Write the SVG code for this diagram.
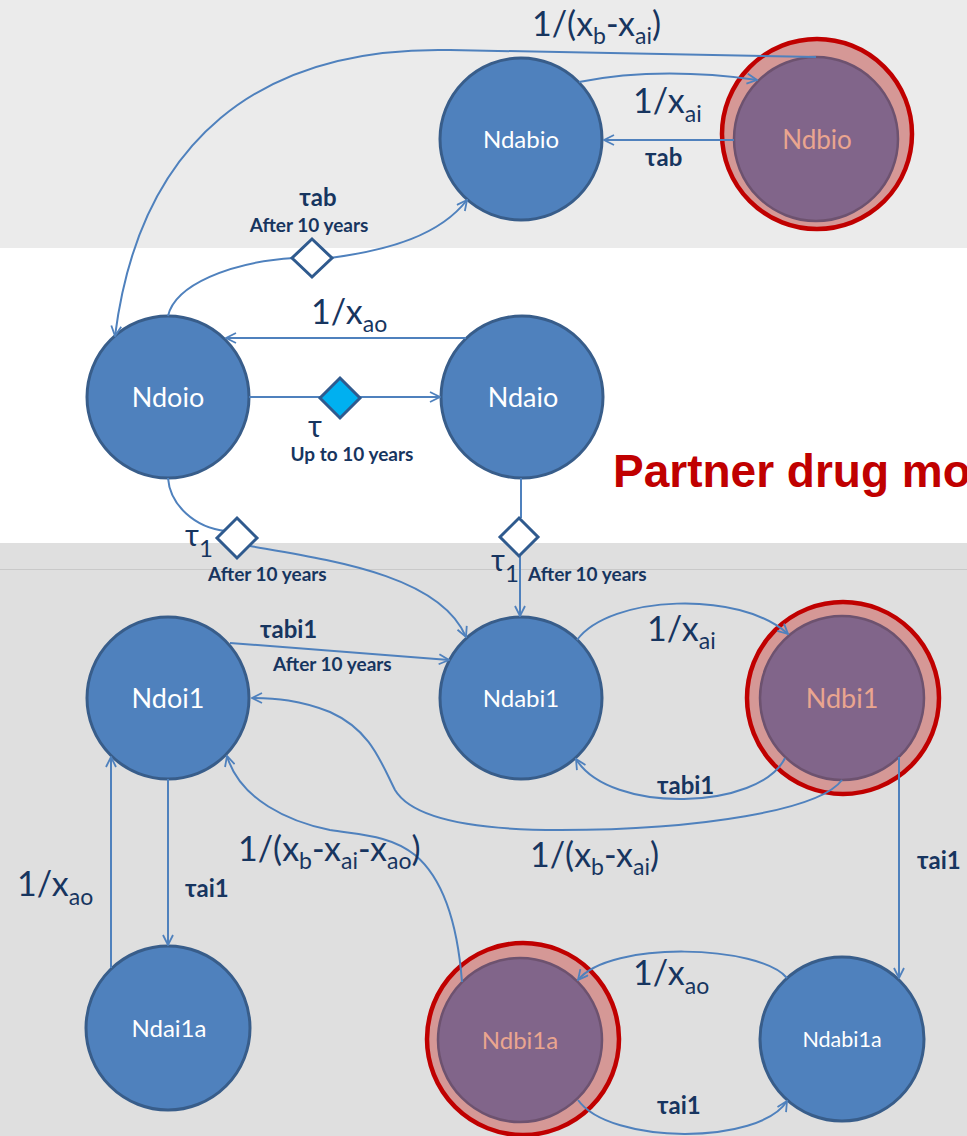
<svg xmlns="http://www.w3.org/2000/svg" width="967" height="1136" viewBox="0 0 967 1136">
<style>
.nb{fill:#4f81bd;stroke:#385d8a;stroke-width:3}
.ring{fill:#d59896;stroke:#c00000;stroke-width:4.5}
.inner{fill:#81658a;stroke:#6d526f;stroke-width:2.5}
.nt{font-family:Lato,"Noto Sans",sans-serif;fill:#ffffff;text-anchor:middle}
.pt{font-family:Lato,"Noto Sans",sans-serif;fill:#eaa58f;text-anchor:middle}
.c{fill:none;stroke:#4f81bd;stroke-width:2}
.dia{fill:#ffffff;stroke:#2f5a8e;stroke-width:3}
.diaf{fill:#00b0f0;stroke:#2f5a8e;stroke-width:3}
.m{font-family:Lato,"Noto Sans",sans-serif;font-size:34px;fill:#17355f}
.s{font-size:23px}
.t{font-family:Lato,"Noto Sans","DejaVu Sans",sans-serif;font-size:24px;font-weight:bold;fill:#17355f}
.y{font-family:Lato,"Noto Sans",sans-serif;font-size:19px;font-weight:bold;fill:#17355f}
.tau{font-family:Lato,"Noto Sans","DejaVu Sans",sans-serif;font-size:30px;fill:#17355f}
</style>
<defs>
<marker id="arr" viewBox="0 0 12 12" refX="11" refY="6" markerWidth="12" markerHeight="12" markerUnits="userSpaceOnUse" orient="auto">
<path d="M1,1 L11,6 L1,11" fill="none" stroke="#4f81bd" stroke-width="1.8"/>
</marker>
</defs>
<g id="background">
<rect x="0" y="0" width="967" height="248" fill="#ebebeb"/>
<rect x="0" y="248" width="967" height="295" fill="#ffffff"/>
<rect x="0" y="543" width="967" height="593" fill="#dfdfdf"/>
<line x1="0" y1="569.5" x2="967" y2="569.5" stroke="#c9c9c9" stroke-width="1"/>
<text x="613" y="487" font-family="'Liberation Sans',Arial,sans-serif" font-size="46" font-weight="bold" fill="#c00000">Partner drug mo</text>
</g>
<g id="Ndabio"><circle class="nb" cx="521" cy="139" r="81"/><text class="nt" x="521" y="148" font-size="24">Ndabio</text></g>
<g id="Ndbio"><circle class="ring" cx="817" cy="134" r="95"/><circle class="inner" cx="816" cy="139" r="82"/><text class="pt" x="817" y="149" font-size="26">Ndbio</text></g>
<g id="Ndoio"><circle class="nb" cx="168" cy="397" r="81"/><text class="nt" x="168" y="407" font-size="27">Ndoio</text></g>
<g id="Ndaio"><circle class="nb" cx="522" cy="397" r="81"/><text class="nt" x="523" y="407" font-size="27">Ndaio</text></g>
<g id="Ndoi1"><circle class="nb" cx="168" cy="698" r="81"/><text class="nt" x="168" y="708" font-size="27">Ndoi1</text></g>
<g id="Ndabi1"><circle class="nb" cx="521" cy="698" r="81"/><text class="nt" x="521" y="707" font-size="24">Ndabi1</text></g>
<g id="Ndbi1"><circle class="ring" cx="843" cy="698" r="96"/><circle class="inner" cx="842" cy="698" r="82"/><text class="pt" x="842" y="708" font-size="27">Ndbi1</text></g>
<g id="Ndai1a"><circle class="nb" cx="168" cy="1028" r="82"/><text class="nt" x="169" y="1037" font-size="24">Ndai1a</text></g>
<g id="Ndbi1a"><circle class="ring" cx="523" cy="1039" r="96"/><circle class="inner" cx="520" cy="1040" r="82"/><text class="pt" x="520" y="1049" font-size="24">Ndbi1a</text></g>
<g id="Ndabi1a"><circle class="nb" cx="842" cy="1039" r="82"/><text class="nt" x="842" y="1047" font-size="21.5">Ndabi1a</text></g>
<g id="connectors">
<path class="c" d="M816,57 L450,50 C260,46 140,140 115,336" marker-end="url(#arr)"/>
<path class="c" d="M579,82 C640,70 700,72 757,80" marker-end="url(#arr)"/>
<path class="c" d="M734,140 L604,140" marker-end="url(#arr)"/>
<path class="c" d="M168,316 C175,285 230,262 294,258"/>
<path class="c" d="M330,258 C390,250 440,235 467,200" marker-end="url(#arr)"/>
<polygon class="dia" points="312,239 332,258 312,277 292,258"/>
<path class="c" d="M466,338 L226,338" marker-end="url(#arr)"/>
<path class="c" d="M249,397 L440,397" marker-end="url(#arr)"/>
<polygon class="diaf" points="340,378 360,398 340,418 320,398"/>
<path class="c" d="M168,478 C170,505 195,528 226,531"/>
<path class="c" d="M250,546 C330,560 440,575 466,637" marker-end="url(#arr)"/>
<polygon class="dia" points="237,518 257,538 237,558 217,538"/>
<path class="c" d="M521,478 L521,518"/>
<path class="c" d="M520,556 L520,616" marker-end="url(#arr)"/>
<polygon class="dia" points="519,518 538,537 519,556 500,537"/>
<path class="c" d="M230,643 L449,660" marker-end="url(#arr)"/>
<path class="c" d="M577,640 C610,595 740,590 788,634" marker-end="url(#arr)"/>
<path class="c" d="M785,758 C760,810 610,815 576,759" marker-end="url(#arr)"/>
<path class="c" d="M842,780 C820,810 700,830 560,830 C460,830 410,815 395,790 C380,760 370,730 330,712 C300,700 275,698 252,698" marker-end="url(#arr)"/>
<path class="c" d="M462,982 C458,930 445,880 415,855 C390,835 360,835 330,830 C290,822 240,800 227,756" marker-end="url(#arr)"/>
<path class="c" d="M168,779 L168,945" marker-end="url(#arr)"/>
<path class="c" d="M111,968 L111,757" marker-end="url(#arr)"/>
<path class="c" d="M899,757 L899,978" marker-end="url(#arr)"/>
<path class="c" d="M787,978 C760,945 610,940 578,980" marker-end="url(#arr)"/>
<path class="c" d="M578,1100 C610,1145 760,1145 787,1101" marker-end="url(#arr)"/>
</g>
<g id="labels">
<text class="m" x="532" y="36">1/(x<tspan class="s" dy="8">b</tspan><tspan dy="-8">-x</tspan><tspan class="s" dy="8">ai</tspan><tspan dy="-8">)</tspan></text>
<text class="m" x="633" y="113">1/x<tspan class="s" dy="9">ai</tspan></text>
<text class="t" x="645" y="166">τab</text>
<text class="t" x="318" y="206" text-anchor="middle">τab</text>
<text class="y" x="309" y="232" text-anchor="middle">After 10 years</text>
<text class="m" x="311" y="324">1/x<tspan class="s" dy="8">ao</tspan></text>
<text class="tau" x="308" y="437">τ</text>
<text class="y" x="352" y="461" text-anchor="middle">Up to 10 years</text>
<text class="tau" x="185" y="546">τ<tspan font-size="24" dy="11">1</tspan></text>
<text class="y" x="208" y="581">After 10 years</text>
<text class="tau" x="491" y="571">τ<tspan font-size="24" dy="11">1</tspan></text>
<text class="y" x="528" y="581">After 10 years</text>
<text class="t" x="260" y="638">τabi1</text>
<text class="y" x="273" y="671">After 10 years</text>
<text class="m" x="647" y="641">1/x<tspan class="s" dy="8">ai</tspan></text>
<text class="t" x="657" y="794">τabi1</text>
<text class="m" x="238" y="861">1/(x<tspan class="s" dy="8">b</tspan><tspan dy="-8">-x</tspan><tspan class="s" dy="8">ai</tspan><tspan dy="-8">-x</tspan><tspan class="s" dy="8">ao</tspan><tspan dy="-8">)</tspan></text>
<text class="m" x="530" y="867">1/(x<tspan class="s" dy="8">b</tspan><tspan dy="-8">-x</tspan><tspan class="s" dy="8">ai</tspan><tspan dy="-8">)</tspan></text>
<text class="m" x="17" y="896">1/x<tspan class="s" dy="9">ao</tspan></text>
<text class="t" x="185" y="897">τai1</text>
<text class="t" x="917" y="869">τai1</text>
<text class="m" x="633" y="985">1/x<tspan class="s" dy="9">ao</tspan></text>
<text class="t" x="657" y="1114">τai1</text>
</g>
</svg>
